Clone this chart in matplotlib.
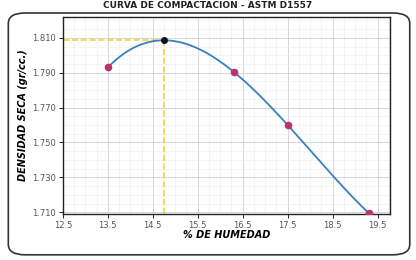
import numpy as np
import matplotlib.pyplot as plt
from matplotlib.patches import FancyBboxPatch

# ---------------- DATA ----------------
humedad = [13.5, 16.3, 17.5, 19.3]
densidad = [1.793, 1.7905, 1.760, 1.7095]
x_ticks = [12.5, 13.5, 14.5, 15.5, 16.5, 17.5, 18.5, 19.5]
y_ticks = [1.710, 1.730, 1.750, 1.770, 1.790, 1.810]

# cubic fit through the points, optimum = max of the curve
coef = np.polyfit(humedad, densidad, 3)
xs = np.linspace(humedad[0], humedad[-1], 200)
ys = np.polyval(coef, xs)
i_max = np.argmax(ys)
x_opt, y_opt = xs[i_max], ys[i_max]

# ---------------- PLOT ----------------
fig = plt.figure(figsize=(4.16, 2.6), dpi=100)
ax = fig.add_axes([0.151, 0.177, 0.787, 0.758])

frame = FancyBboxPatch((0.02, 0.02), 0.965, 0.93, boxstyle="round,pad=0,rounding_size=0.04",
                       transform=fig.transFigure, fill=False, lw=1.2, ec="#333333")
fig.patches.append(frame)

ax.plot(xs, ys, color="#3a7fc0", lw=1.3, zorder=3)
ax.scatter(humedad, densidad, color="#c0306a", s=20, zorder=4)
ax.scatter([x_opt], [y_opt], color="#111111", s=16, zorder=5)

ax.plot([12.5, x_opt], [y_opt, y_opt], color="#e8d840", ls="--", lw=1.2, zorder=2)
ax.plot([x_opt, x_opt], [1.709, y_opt], color="#e8d840", ls="--", lw=1.2, zorder=2)

ax.set_xlim(12.5, 19.78)
ax.set_ylim(1.709, 1.822)
ax.set_xticks(x_ticks)
ax.set_yticks(y_ticks)
ax.set_xticklabels([str(t) for t in x_ticks], fontsize=6, color="#555555")
ax.set_yticklabels([f"{t:.3f}" for t in y_ticks], fontsize=6, color="#555555")
ax.set_xticks(np.arange(12.5, 19.8, 0.25), minor=True)
ax.set_yticks(np.arange(1.710, 1.822, 0.005), minor=True)
ax.grid(which="major", color="#d0d0d0", lw=0.6)
ax.grid(which="minor", color="#ececec", lw=0.4)
ax.tick_params(which="minor", length=0)
ax.tick_params(which="major", length=3, width=0.6, pad=2)
for s in ax.spines.values():
    s.set_linewidth(1.0)
    s.set_color("#222222")

ax.set_xlabel("% DE HUMEDAD", fontsize=7, fontweight="bold", style="italic", labelpad=0)
ax.set_ylabel("DENSIDAD SECA (gr/cc.)", fontsize=7, fontweight="bold", style="italic", labelpad=3)

fig.text(0.5, 0.997, "CURVA DE COMPACTACION - ASTM D1557", ha="center", va="top",
         fontsize=6.5, fontweight="bold", color="#222222")

plt.savefig("out.png", dpi=100)
